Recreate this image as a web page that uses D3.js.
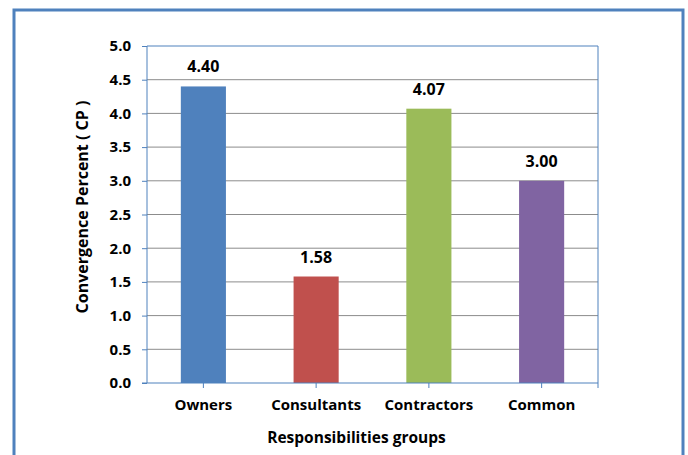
<!DOCTYPE html>
<html lang="en">
  <head>
    <meta charset="UTF-8" />
    <script src="https://d3js.org/d3.v7.min.js"></script>
    <title>Convergence Percent by Responsibilities group</title>
    <style type="text/css">
      body { margin: 0; background: #fff; }
      text { font-family: 'Open Sans', 'Noto Sans', sans-serif; font-weight: bold; fill: #000; }
    </style>
  </head>
  <body>
    <svg width="688" height="455"></svg>
  </body>
  <script type="text/javascript">
    const groups = ['Owners', 'Consultants', 'Contractors', 'Common'];
    const cpValues = [4.40, 1.58, 4.07, 3.00];
    const barColors = ['#4F81BD', '#C0504D', '#9BBB59', '#8064A2'];
    const yTicks = [0, 0.5, 1, 1.5, 2, 2.5, 3, 3.5, 4, 4.5, 5];

    const svg = d3.select('svg');

    // outer frame
    svg.append('rect')
      .attr('x', 14).attr('y', 10)
      .attr('width', 669).attr('height', 460)
      .attr('fill', 'none')
      .attr('stroke', '#4F81BD')
      .attr('stroke-width', 3);

    const plotLeft = 147, plotRight = 598, plotTop = 46, plotBottom = 383;

    const xScale = d3.scaleBand()
      .domain(groups)
      .range([plotLeft, plotRight])
      .paddingInner(0.6)
      .paddingOuter(0.3);

    const yScale = d3.scaleLinear()
      .domain([0, 5])
      .range([plotBottom, plotTop]);

    // gridlines
    svg.append('g')
      .selectAll('line')
      .data(yTicks.filter((d) => d > 0 && d < 5))
      .join('line')
      .attr('x1', plotLeft).attr('x2', plotRight)
      .attr('y1', (d) => yScale(d)).attr('y2', (d) => yScale(d))
      .attr('stroke', '#8C8C8C')
      .attr('stroke-width', 1);

    // plot box top and right
    svg.append('line')
      .attr('x1', plotLeft).attr('x2', plotRight)
      .attr('y1', plotTop).attr('y2', plotTop)
      .attr('stroke', '#4F81BD');
    svg.append('line')
      .attr('x1', plotRight).attr('x2', plotRight)
      .attr('y1', plotTop).attr('y2', plotBottom + 5)
      .attr('stroke', '#4F81BD');

    // bars
    svg.selectAll('.bar')
      .data(groups)
      .join('rect')
      .attr('class', 'bar')
      .attr('x', (d) => xScale(d))
      .attr('y', (d, i) => yScale(cpValues[i]))
      .attr('width', xScale.bandwidth())
      .attr('height', (d, i) => plotBottom - yScale(cpValues[i]))
      .attr('fill', (d, i) => barColors[i]);

    // value labels
    svg.selectAll('.val')
      .data(groups)
      .join('text')
      .attr('class', 'val')
      .attr('x', (d) => xScale(d) + xScale.bandwidth() / 2)
      .attr('y', (d, i) => yScale(cpValues[i]) - 14)
      .attr('text-anchor', 'middle')
      .attr('font-size', '16px')
      .text((d, i) => cpValues[i].toFixed(2));

    // y axis
    const yAxis = svg.append('g')
      .attr('transform', `translate(${plotLeft},0)`)
      .call(d3.axisLeft(yScale).tickValues(yTicks).tickFormat(d3.format('.1f')).tickSize(5).tickPadding(11));
    yAxis.select('.domain').attr('stroke', '#4F81BD').attr('d', `M0,${plotTop}V${plotBottom}`);
    yAxis.selectAll('.tick line').attr('stroke', '#4F81BD');
    yAxis.selectAll('text').attr('font-size', '15px').attr('fill', '#000');

    // x axis
    const xAxis = svg.append('g')
      .attr('transform', `translate(0,${plotBottom})`)
      .call(d3.axisBottom(xScale).tickSize(5).tickPadding(11));
    xAxis.select('.domain').attr('stroke', '#4F81BD').attr('d', `M${plotLeft - 5},0H${plotRight}`);
    xAxis.selectAll('.tick line').attr('stroke', '#4F81BD');
    xAxis.selectAll('text').attr('font-size', '15px').attr('fill', '#000');

    // axis titles
    svg.append('text')
      .attr('x', (plotLeft + plotRight) / 2 - 16)
      .attr('y', 443)
      .attr('text-anchor', 'middle')
      .attr('font-size', '15.5px')
      .text('Responsibilities groups');

    svg.append('text')
      .attr('transform', `translate(88,207) rotate(-90)`)
      .attr('text-anchor', 'middle')
      .attr('font-size', '16px')
      .text('Convergence Percent  ( CP )');
  </script>
</html>
